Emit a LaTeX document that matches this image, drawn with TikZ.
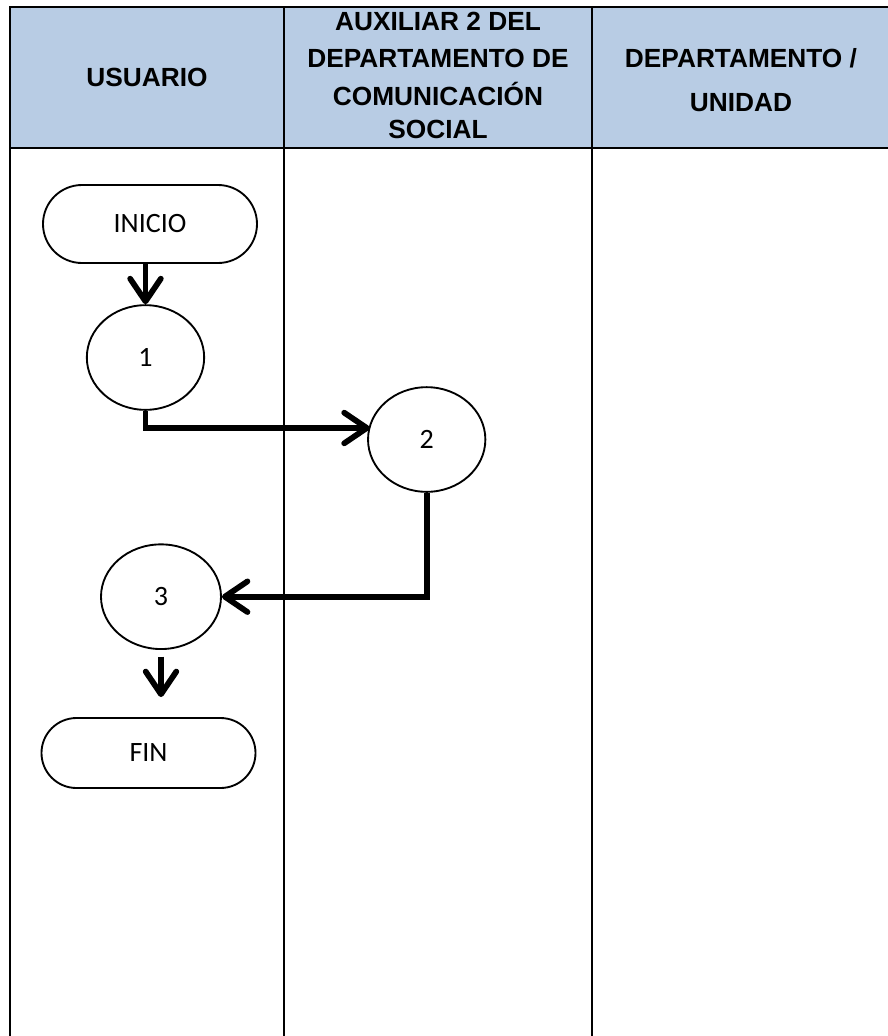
\documentclass[tikz,border=0pt]{standalone}
\usepackage{fontspec}
\setmainfont{Carlito}
\newfontfamily\headfont{Liberation Sans}
\usetikzlibrary{shapes.geometric,shapes.misc,arrows.meta,calc}
\definecolor{headblue}{HTML}{B8CCE4}

\begin{document}
\begin{tikzpicture}[x=0.75pt,y=-0.75pt,
  grid/.style={line width=1.6pt},
  headtxt/.style={anchor=base,inner sep=0pt,font=\headfont\bfseries\fontsize{19.7}{23}\selectfont},
  terminal/.style={draw,line width=1.4pt,rounded rectangle,inner sep=0pt,minimum width=160.5pt,font=\fontsize{21}{25}\selectfont},
  stepnode/.style={draw,line width=1.4pt,ellipse,inner sep=0pt,minimum width=88pt,minimum height=78.5pt,font=\fontsize{21}{25}\selectfont},
  flow/.style={line width=4.3pt,line join=miter,-{Straight Barb[round,length=17pt,width=23pt]}}
]
\useasboundingbox (0,0) rectangle (888,1036);

% swimlane table
\fill[headblue] (10,7) rectangle (888,148);
\draw[grid] (10,1036) -- (10,7) -- (888,7);
\draw[grid] (10,148) -- (888,148);
\draw[grid] (284,7) -- (284,1036);
\draw[grid] (592,7) -- (592,1036);

% lane titles
\node[headtxt] (hUsuario) at (147,86) {USUARIO};
\node[headtxt] (hAuxA) at (438,30) {AUXILIAR 2 DEL};
\node[headtxt] (hAuxB) at (438,67) {DEPARTAMENTO DE};
\node[headtxt] (hAuxC) at (438,105) {COMUNICACIÓN};
\node[headtxt] (hAuxD) at (438,138) {SOCIAL};
\node[headtxt] (hDepA) at (741,67) {DEPARTAMENTO /};
\node[headtxt] (hDepB) at (741,111) {UNIDAD};

% flow shapes
\node[terminal,minimum height=58.5pt] (inicio) at (150,224) {INICIO};
\node[stepnode] (s1) at (145.5,357.5) {1};
\node[stepnode] (s2) at (426.7,439.5) {2};
\node[stepnode,minimum width=90pt] (s3) at (161,596.7) {3};
\node[terminal,minimum height=52.5pt] (fin) at (148.5,753) {FIN};

% connectors
\coordinate (s2in) at ($(s2.center)+(-57,-11.5)$);
\draw[flow] (inicio.south -| s1.north) -- (s1.north);
\draw[flow] (s1.south) |- (s2in);
\draw[flow] (s2.south) |- (s3.east);
\draw[flow,shorten <=5pt,shorten >=15pt] (s3.south) -- (s3.south |- fin.north);
\end{tikzpicture}
\end{document}
